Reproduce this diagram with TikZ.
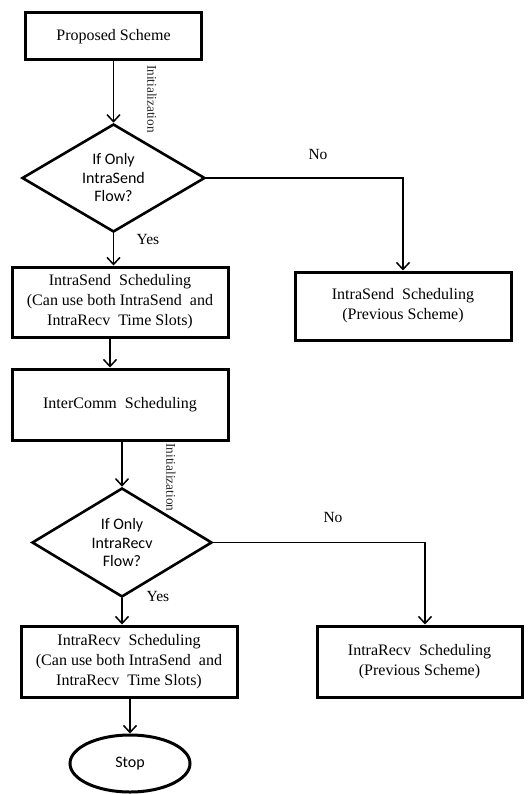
\documentclass[tikz,border=0pt]{standalone}
\usepackage{fontspec}
\setmainfont{Liberation Serif}
\newfontfamily\calibrifont{Carlito}
\usetikzlibrary{shapes.geometric,arrows.meta}
\begin{document}
\begin{tikzpicture}[x=1pt,y=-1pt,
  box/.style={draw,line width=3pt,rectangle,inner sep=0pt,align=center,font=\fontsize{16}{20}\selectfont},
  dia/.style={draw,line width=2.6pt,diamond,aspect=2,inner sep=0pt,align=center,font=\calibrifont\fontsize{16}{18.5}\selectfont},
  term/.style={draw,line width=3pt,ellipse,inner sep=0pt,font=\calibrifont\fontsize{16}{18}\selectfont},
  conn/.style={line width=1.5pt,-{Straight Barb[length=7pt,width=13pt,line width=1.5pt]}},
  lbl/.style={font=\fontsize{15.5}{18}\selectfont,inner sep=0pt},
  initlbl/.style={font=\fontsize{13.3}{15}\selectfont,text=black!85,rotate=-90,inner sep=0pt}]
\useasboundingbox (0,0) rectangle (528,794);
\node[box,minimum width=176pt,minimum height=47pt] (b1) at (113.5,36.5) {Proposed Scheme};
\node[dia,minimum width=183pt,minimum height=108pt] (d1) at (113.5,178) {If Only\\IntraSend\\Flow?};
\node[box,minimum width=216pt,minimum height=70pt] (b2) at (120,302) {IntraSend\ \ Scheduling\\(Can use both IntraSend\ \ and\\IntraRecv\ \ Time Slots)};
\node[box,minimum width=216pt,minimum height=68pt] (r1) at (403,306) {IntraSend\ \ Scheduling\\(Previous Scheme)};
\node[box,minimum width=216pt,minimum height=71pt] (b3) at (120,404.5) {InterComm\ \ Scheduling};
\node[dia,minimum width=180pt,minimum height=109pt] (d2) at (122,542.5) {If Only\\IntraRecv\\Flow?};
\node[box,minimum width=216pt,minimum height=71pt] (b4) at (129,661.5) {IntraRecv\ \ Scheduling\\(Can use both IntraSend\ \ and\\IntraRecv\ \ Time Slots)};
\node[box,minimum width=205pt,minimum height=71pt] (r2) at (419.5,661.5) {IntraRecv\ \ Scheduling\\(Previous Scheme)};
\node[term,minimum width=120pt,minimum height=57pt] (stop) at (130,763.5) {Stop};
% labels
\node[initlbl] (i1) at (152,99) {Initialization};
\node[initlbl] (i2) at (171,477.5) {Initialization};
\node[lbl] (no1) at (318,155) {No};
\node[lbl] (yes1) at (148,240) {Yes};
\node[lbl] (no2) at (333,517) {No};
\node[lbl] (yes2) at (158,596) {Yes};
% connectors
\draw[conn] (b1.south) -- (d1.north);
\draw[conn] (d1.south) -- (d1.south |- b2.north);
\draw[conn] ([xshift=-10pt]b2.south) -- ([xshift=-10pt]b3.north);
\draw[conn] (d2.north |- b3.south) -- (d2.north);
\draw[conn] (d2.south) -- (d2.south |- b4.north);
\draw[conn] (stop.north |- b4.south) -- (stop.north);
\draw[conn] (d1.east) -| (r1.north);
\draw[conn] (d2.east) -| ([xshift=5.5pt]r2.north);
\end{tikzpicture}
\end{document}
